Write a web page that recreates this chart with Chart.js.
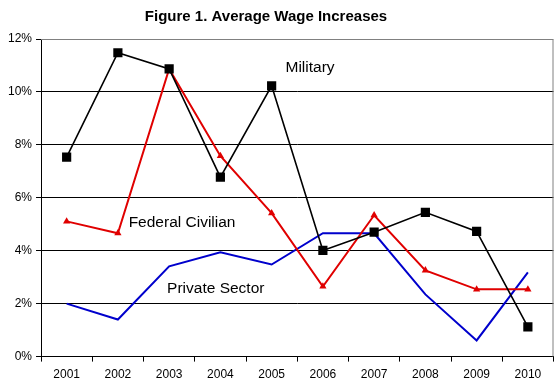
<!DOCTYPE html>
<html>
<head>
<meta charset="utf-8">
<script src="https://cdn.jsdelivr.net/npm/chart.js@4.4.1/dist/chart.umd.min.js"></script>
<style>
  html, body { margin: 0; padding: 0; background: #fff; }
  #wrap { width: 560px; height: 386px; }
</style>
</head>
<body>
<div id="wrap"><canvas id="chart" width="560" height="386"></canvas></div>
<script>
const years = ['2001', '2002', '2003', '2004', '2005', '2006', '2007', '2008', '2009', '2010'];
const military = [7.54, 11.48, 10.87, 6.78, 10.23, 4.01, 4.70, 5.45, 4.73, 1.12];
const federalCivilian = [5.11, 4.66, 10.87, 7.58, 5.42, 2.65, 5.34, 3.26, 2.54, 2.54];
const privateSector = [2.00, 1.40, 3.41, 3.94, 3.48, 4.66, 4.66, 2.35, 0.61, 3.18];

const chartTitle = 'Figure 1. Average Wage Increases';

// series labels written inside the plot
const seriesNotes = [
    { text: 'Military', cat: 4.27, val: 10.9 },
    { text: 'Federal Civilian', cat: 1.21, val: 5.05 },
    { text: 'Private Sector', cat: 1.96, val: 2.55 }
];

const plotFrame = {
    id: 'plotFrame',
    beforeDatasetsDraw(chart) {
        const { ctx, chartArea: a } = chart;
        ctx.save();
        ctx.strokeStyle = '#808080';
        ctx.lineWidth = 1;
        ctx.beginPath();
        ctx.moveTo(a.left, a.top + 0.5);
        ctx.lineTo(a.right - 0.5, a.top + 0.5);
        ctx.lineTo(a.right - 0.5, a.bottom);
        ctx.stroke();
        ctx.restore();
    },
    afterDatasetsDraw(chart) {
        const { ctx } = chart;
        const x = chart.scales.x, y = chart.scales.y;
        const step = x.getPixelForValue(1) - x.getPixelForValue(0);
        ctx.save();
        ctx.fillStyle = '#000';
        ctx.font = '15.5px "Liberation Sans", Arial, sans-serif';
        ctx.textBaseline = 'middle';
        seriesNotes.forEach(n => {
            const px = x.getPixelForValue(Math.floor(n.cat)) + (n.cat % 1) * step;
            ctx.fillText(n.text, px, y.getPixelForValue(n.val));
        });
        // title
        ctx.font = 'bold 15px "Liberation Sans", Arial, sans-serif';
        ctx.textAlign = 'center';
        ctx.fillText(chartTitle, 266, 17);
        ctx.restore();
    }
};

const ctx = document.getElementById('chart').getContext('2d');
const chart = new Chart(ctx, {
    type: 'line',
    data: {
        labels: years,
        datasets: [{
            label: 'Military',
            data: military,
            borderColor: '#000000',
            backgroundColor: '#000000',
            borderWidth: 1.6,
            pointStyle: 'rect',
            pointRadius: 6.5,
            pointBorderWidth: 0,
            tension: 0
        }, {
            label: 'Federal Civilian',
            data: federalCivilian,
            borderColor: '#e00000',
            backgroundColor: '#e00000',
            borderWidth: 2,
            pointStyle: 'triangle',
            pointRadius: 4.2,
            pointBorderWidth: 0,
            tension: 0
        }, {
            label: 'Private Sector',
            data: privateSector,
            borderColor: '#0000cc',
            backgroundColor: '#0000cc',
            borderWidth: 2,
            pointRadius: 0,
            tension: 0
        }]
    },
    options: {
        responsive: false,
        animation: false,
        layout: { padding: { left: 4, right: 0, top: 39, bottom: -2 } },
        plugins: {
            legend: { display: false },
            tooltip: { enabled: false },
            title: { display: false }
        },
        scales: {
            x: {
                offset: true,
                grid: {
                    offset: true,
                    drawOnChartArea: false,
                    drawTicks: true,
                    tickLength: 5,
                    color: '#000'
                },
                border: { color: '#000', width: 1 },
                ticks: {
                    color: '#000',
                    padding: 6,
                    maxRotation: 0,
                    font: { family: '"Liberation Sans", Arial, sans-serif', size: 12 }
                }
            },
            y: {
                min: 0,
                max: 12,
                grid: {
                    color: ctx => ctx.tick && ctx.tick.value === 12 ? '#808080' : '#000',
                    tickColor: '#000',
                    tickLength: 5,
                    lineWidth: 1
                },
                border: { color: '#000', width: 1 },
                ticks: {
                    stepSize: 2,
                    color: '#000',
                    padding: 4,
                    font: { family: '"Liberation Sans", Arial, sans-serif', size: 12 },
                    callback: v => v + '%'
                }
            }
        }
    },
    plugins: [plotFrame]
});
</script>
</body>
</html>
